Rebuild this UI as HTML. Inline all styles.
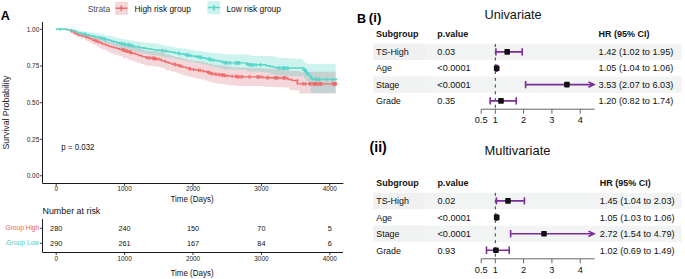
<!DOCTYPE html>
<html><head><meta charset="utf-8">
<style>
html,body{margin:0;padding:0;background:#fff;}
body{width:685px;height:279px;overflow:hidden;}
svg{display:block;font-family:"Liberation Sans",sans-serif;}
</style></head>
<body>
<svg width="685" height="279" viewBox="0 0 685 279">
<rect width="685" height="279" fill="#fff"/>
<text x="0.8" y="20.4" font-size="12.6" fill="#000" font-weight="bold" transform="matrix(1 0 0 1.08 0 -1.632)">A</text>
<text x="87.7" y="11.7" font-size="8.4" fill="#4d4d4d" transform="matrix(1 0 0 1.1 0 -1.170)">Strata</text>
<rect x="115" y="1.8" width="13" height="13" fill="#F4D7DA"/>
<path d="M115.6,8.3H127.4M121.3,5.5V11.0" stroke="#EE6A68" stroke-width="1.5" fill="none"/>
<text x="134.5" y="11.7" font-size="8.4" fill="#111" transform="matrix(1 0 0 1.1 0 -1.170)">High risk group</text>
<rect x="207.3" y="1.2" width="13" height="13" fill="#11C6AE" fill-opacity="0.21"/>
<path d="M207.9,7.6H219.7M213.8,5.0V10.7" stroke="#58D5CB" stroke-width="1.5" fill="none"/>
<text x="226.4" y="11.7" font-size="8.4" fill="#111" transform="matrix(1 0 0 1.1 0 -1.170)">Low risk group</text>
<g><path d="M56.0,29.30H58.3V29.30H62.6V29.30H64.7V29.30H66.7V29.33H69.2V29.49H71.4V31.25H75.0V32.12H76.8V33.07H81.0V33.42H85.1V34.02H86.6V34.63H89.7V35.36H91.5V36.09H93.8V37.02H96.5V38.04H99.4V39.05H102.3V40.27H106.6V41.35H108.9V42.08H110.9V42.57H114.4V43.22H118.8V44.01H123.0V44.86H127.2V45.45H128.9V46.18H133.2V47.27H136.6V48.34H140.8V49.32H143.5V50.02H145.6V50.82H149.5V51.04H153.0V51.26H156.8V51.61H158.9V51.84H160.8V52.87H164.6V54.14H166.2V54.85H170.5V55.59H172.4V56.19H175.7V56.90H178.5V57.51H181.0V58.03H183.0V58.79H186.8V60.00H191.1V60.68H194.7V61.01H198.0V61.34H201.7V61.88H204.8V62.76H208.0V63.81H212.2V64.73H214.5V64.97H216.7V65.26H221.0V65.75H225.4V66.33H228.3V66.78H232.2V67.19H235.9V67.54H240.3V67.70H242.0V67.77H246.2V67.87H249.2V67.94H252.1V68.02H255.6V68.11H259.0V68.17H261.8V68.28H264.2V68.73H268.4V68.70H272.4V68.69H274.2V68.68H276.9V68.66H280.7V68.64H284.8V68.62H289.2V70.81H291.4V70.89H295.6V70.98H299.2V71.80H300.9V71.80H303.0V71.80H305.1V71.80H306.8V71.80H310.4V71.80H312.8V71.80H316.4V71.80H318.1V71.80H322.2V71.80H325.8V71.80H329.7V71.80H333.0V71.80H335.7V71.80V93.40H333.0V93.40H329.7V93.40H325.8V93.40H322.2V93.40H318.1V93.40H316.4V93.40H312.8V93.40H310.4V93.40H306.8V93.40H305.1V93.40H303.0V93.40H300.9V93.40H299.2V90.35H295.6V90.06H291.4V89.82H289.2V87.49H284.8V87.33H280.7V87.17H276.9V87.05H274.2V86.96H272.4V86.85H268.4V86.72H264.2V86.23H261.8V86.08H259.0V86.07H255.6V86.05H252.1V86.04H249.2V86.02H246.2V86.00H242.0V85.99H240.3V85.90H235.9V85.59H232.2V85.17H228.3V84.70H225.4V84.08H221.0V83.43H216.7V83.02H214.5V82.70H212.2V81.66H208.0V80.48H204.8V79.44H201.7V78.73H198.0V78.16H194.7V77.58H191.1V76.62H186.8V75.13H183.0V74.16H181.0V73.48H178.5V72.68H175.7V71.83H172.4V71.13H170.5V70.28H166.2V69.45H164.6V68.07H160.8V66.94H158.9V66.66H156.8V66.25H153.0V65.95H149.5V65.64H145.6V64.73H143.5V63.91H140.8V62.76H136.6V61.51H133.2V60.22H128.9V59.01H127.2V57.89H123.0V56.28H118.8V54.70H114.4V53.35H110.9V52.39H108.9V51.36H106.6V49.84H102.3V48.13H99.4V46.59H96.5V45.06H93.8V43.67H91.5V42.57H89.7V41.26H86.6V40.08H85.1V38.78H81.0V37.20H76.8V34.96H75.0V32.95H71.4V30.36H69.2V29.73H66.7V29.30H64.7V29.30H62.6V29.30H58.3V29.30H56.0V29.30Z" fill="#F4D7DA"/>
<path d="M56.0,29.30H57.9V29.30H60.9V29.30H64.2V29.30H65.8V29.33H67.7V29.48H72.0V29.63H73.7V29.88H75.6V30.30H79.9V30.88H83.3V31.40H85.9V31.89H89.0V32.37H92.4V32.80H94.8V33.12H96.7V33.58H100.5V34.33H104.1V35.14H107.1V35.83H111.0V36.46H114.2V37.46H118.6V38.50H120.7V38.98H123.9V39.49H126.9V39.95H129.4V40.43H132.7V40.88H134.9V41.38H138.8V42.05H142.9V42.48H144.8V42.69H147.7V42.92H150.0V43.10H151.8V43.36H156.0V43.67H158.8V43.88H160.7V44.88H164.2V45.93H166.3V46.29H170.5V46.75H172.7V47.05H174.3V47.34H176.4V47.71H178.9V48.14H181.8V48.70H186.0V49.32H189.6V49.80H192.2V50.11H193.7V50.38H195.7V50.86H200.2V51.41H203.1V51.90H206.6V52.25H208.3V52.43H209.9V52.76H213.9V53.18H217.2V53.51H219.6V53.79H222.1V53.95H223.8V54.09H225.9V54.13H227.4V54.19H231.5V54.26H234.3V54.31H236.2V54.36H239.9V54.42H242.0V54.46H243.7V54.52H247.0V54.74H251.2V55.92H252.8V55.96H256.7V56.00H258.8V56.02H260.5V56.04H262.1V56.07H264.5V56.10H268.2V56.15H271.1V56.19H275.2V57.49H277.4V57.64H279.8V57.80H282.1V58.02H286.5V58.31H290.8V58.49H293.4V58.60H296.2V58.71H298.6V58.84H302.3V60.21H304.0V62.09H305.7V63.21H308.4V64.10H310.6V64.10H314.6V64.10H318.4V64.10H321.5V64.10H325.0V64.10H328.6V64.10H332.4V64.10H335.7V64.10V93.00H332.4V93.00H328.6V93.00H325.0V93.00H321.5V93.00H318.4V93.00H314.6V93.00H310.6V83.60H308.4V80.89H305.7V78.16H304.0V76.37H302.3V76.14H298.6V76.07H296.2V76.01H293.4V75.94H290.8V75.85H286.5V75.68H282.1V75.55H279.8V75.32H277.4V74.84H275.2V74.15H271.1V73.25H268.2V72.39H264.5V71.98H262.1V71.89H260.5V71.83H258.8V71.79H256.7V71.73H252.8V71.67H251.2V71.61H247.0V69.85H243.7V69.65H242.0V69.63H239.9V69.60H236.2V69.57H234.3V69.54H231.5V69.50H227.4V69.47H225.9V69.40H223.8V68.69H222.1V67.91H219.6V67.45H217.2V66.91H213.9V66.21H209.9V65.47H208.3V65.05H206.6V64.36H203.1V63.57H200.2V62.92H195.7V62.37H193.7V62.07H192.2V61.71H189.6V61.14H186.0V60.42H181.8V59.69H178.9V59.14H176.4V58.66H174.3V58.31H172.7V58.01H170.5V57.51H166.3V57.01H164.2V56.57H160.7V56.15H158.8V55.78H156.0V55.21H151.8V54.67H150.0V54.30H147.7V53.80H144.8V53.33H142.9V52.74H138.8V51.94H134.9V51.12H132.7V50.37H129.4V49.61H126.9V49.01H123.9V48.34H120.7V47.73H118.6V46.72H114.2V45.47H111.0V44.20H107.1V42.99H104.1V41.88H100.5V40.65H96.7V39.72H94.8V39.04H92.4V38.02H89.0V36.88H85.9V36.00H83.3V35.06H79.9V33.81H75.6V31.54H73.7V30.80H72.0V29.95H67.7V29.51H65.8V29.28H64.2V29.28H60.9V29.29H57.9V29.30H56.0V29.30Z" fill="#11C6AE" fill-opacity="0.21"/>
<path d="M56.0,29.30H58.2H60.0H61.4H64.5H66.9V29.69H70.9V31.89H74.5V33.72H78.0V34.96H79.4V35.42H82.1V36.10H85.0V36.77H86.4V37.46H88.9V38.35H91.0V39.13H92.8V40.25H96.3V41.47H98.7V42.26H100.1V43.02H102.4V44.19H106.1V45.35H108.4V46.14H110.2V46.64H111.5V47.17H114.2V47.91H117.2V48.62H119.6V49.49H123.2V50.42H125.8V51.32H129.3V52.30H132.1V53.22H134.9V54.06H137.3V54.69H138.8V55.46H141.9V56.58H145.6V57.70H148.8V58.02H151.2V58.22H152.6V58.38H154.3V58.65H157.1V59.11H160.1V59.46H161.4V60.79H165.2V62.25H168.4V63.14H171.6V64.11H175.6V65.04H178.6V65.78H181.1V66.38H183.0V67.11H186.1V68.16H189.2V69.19H193.1V69.70H196.9V70.12H199.5V70.52H203.1V71.47H207.0V72.40H209.3V73.19H212.2V74.02H215.1V74.31H217.6V74.58H220.2V74.81H222.0V75.08H223.7V75.37H225.8V75.74H228.6V76.07H231.7V76.37H235.2V76.61H237.2V76.72H239.8V76.81H242.3H244.0H247.9H250.0H253.2H256.3H259.7H263.2V77.55H267.1V77.74H269.2H272.2H274.3H276.3H279.8V77.96H283.1V78.02H286.3H287.9V79.46H291.8V80.42H294.7V80.52H297.2V83.80H301.0H302.5H304.5H306.1H308.3H311.7H313.3H316.6H319.5H321.6H325.2H326.5H328.4H331.0H333.3H335.6H337.3" stroke="#EE6A68" stroke-width="1.35" fill="none"/>
<path d="M95.1,38.7v3.6M95.9,39.0v3.6M97.8,39.8v3.6M121.6,47.8v3.6M123.2,48.2v3.6M123.4,48.3v3.6M124.6,48.6v3.6M123.5,48.3v3.6M124.5,48.6v3.6M125.8,49.0v3.6M126.9,49.3v3.6M127.4,49.5v3.6M128.9,49.9v3.6M130.0,50.3v3.6M131.4,50.7v3.6M130.1,50.3v3.6M131.2,50.7v3.6M147.2,55.9v3.6M148.7,56.1v3.6M150.0,56.2v3.6M152.8,56.5v3.6M154.1,56.7v3.6M155.1,56.8v3.6M156.5,57.0v3.6M153.1,56.5v3.6M154.3,56.7v3.6M155.2,56.8v3.6M158.9,57.4v3.6M173.8,62.3v3.6M175.2,62.7v3.6M175.5,62.8v3.6M177.9,63.5v3.6M180.0,64.0v3.6M181.2,64.4v3.6M188.8,66.7v3.6M190.1,67.2v3.6M190.7,67.3v3.6M193.5,67.7v3.6M198.7,68.4v3.6M200.3,68.6v3.6M207.8,70.5v3.6M208.6,70.7v3.6M210.6,71.3v3.6M212.1,71.8v3.6M209.5,71.0v3.6M212.1,71.8v3.6M215.3,72.4v3.6M216.2,72.5v3.6M218.1,72.7v3.6M219.7,72.9v3.6M221.3,73.0v3.6M222.2,73.2v3.6M223.9,73.4v3.6M226.0,73.8v3.6M222.6,73.2v3.6M224.1,73.5v3.6M224.4,73.5v3.6M232.3,74.5v3.6M235.4,74.7v3.6M236.7,74.8v3.6M238.4,74.9v3.6M237.0,74.8v3.6M238.0,74.9v3.6M240.0,75.0v3.6M241.6,75.0v3.6M242.9,75.0v3.6M249.0,75.1v3.6M250.0,75.1v3.6M257.2,75.2v3.6M258.1,75.2v3.6M259.8,75.2v3.6M261.9,75.2v3.6M257.4,75.2v3.6M257.5,75.2v3.6M259.0,75.2v3.6M266.7,75.9v3.6M267.8,75.9v3.6M268.8,75.9v3.6M274.3,76.0v3.6M275.8,76.1v3.6M277.4,76.1v3.6M278.0,76.1v3.6M275.3,76.1v3.6M276.7,76.1v3.6M282.9,76.2v3.6M284.3,76.2v3.6M284.5,76.2v3.6M286.2,76.2v3.6M283.9,76.2v3.6M284.9,76.2v3.6M297.9,78.8v3.6M302.3,82.0v3.6M303.6,82.0v3.6M305.1,82.0v3.6M305.5,82.0v3.6M309.3,82.0v3.6M310.7,82.0v3.6M309.4,82.0v3.6M310.9,82.0v3.6M313.1,82.0v3.6M314.1,82.0v3.6M315.5,82.0v3.6M313.2,82.0v3.6M314.7,82.0v3.6M314.9,82.0v3.6M316.8,82.0v3.6M315.8,82.0v3.6M316.9,82.0v3.6M318.6,82.1v3.6M315.9,82.0v3.6M318.2,82.1v3.6M319.2,82.1v3.6M320.4,82.1v3.6M321.7,82.1v3.6M320.4,82.1v3.6M321.4,82.1v3.6M332.4,82.1v3.6M333.5,82.1v3.6M335.0,82.1v3.6M335.1,82.1v3.6M333.7,82.1v3.6M334.6,82.1v3.6M336.0,82.1v3.6M335.1,82.1v3.6M336.1,82.1v3.6" stroke="#EE6A68" stroke-width="0.9" fill="none"/>
<path d="M56.0,29.30H59.4H62.3H65.5H66.9V29.69H69.9V30.24H73.8V31.01H76.2V32.29H77.7V32.99H81.6V33.72H84.7V34.24H86.5V34.76H89.5V35.69H93.5V36.42H95.3V37.06H98.9V37.88H102.1V38.50H103.9V38.95H105.6V39.68H109.5V40.50H111.6V41.26H114.1V42.08H117.1V42.83H119.5V43.32H120.7V43.61H122.7V44.03H125.2V44.57H128.5V45.22H131.4V45.85H133.8V46.35H135.5V46.94H138.9V47.36H140.7V47.77H143.9V48.24H146.5V48.67H149.2V49.05H151.5V49.35H153.3V49.61H155.0V49.92H157.9V50.22H159.9V50.42H161.2V50.60H162.9V50.94H166.7V51.48H169.9V51.94H172.7V52.34H175.0V52.92H178.5V53.47H180.4V53.96H183.4V54.38H184.7V54.77H187.7V55.40H191.6V56.04H194.8V56.42H196.2V56.77H199.0V57.18H201.1V57.72H204.9V58.33H206.2V58.62H207.4V58.95H208.9V59.38H211.0V60.02H214.7V60.57H217.5V61.06H220.5V61.46H221.8V62.01H223.5V62.72H225.8V62.85H228.7H232.1H234.9H236.8H238.5H240.9H242.8H246.2V64.34H249.9V64.83H253.3H254.9H258.3H259.5H261.1H264.3V65.07H266.4V65.71H269.9V66.46H273.0V67.13H276.0V67.66H278.9V68.02H282.6H286.2H287.4H291.4H293.8H295.8H299.5H303.2V70.28H306.6V74.31H309.8V76.57H311.0V78.42H313.0V79.33H316.5V79.39H320.5H322.5H325.8H327.3H330.6H332.8H334.2H335.9H337.3" stroke="#58D5CB" stroke-width="1.45" fill="none"/>
<path d="M84.5,32.2v3.6M85.6,32.5v3.6M100.2,36.0v3.6M101.5,36.3v3.6M103.4,36.8v3.6M104.7,37.1v3.6M106.1,37.5v3.6M120.0,41.5v3.6M121.8,41.8v3.6M122.7,42.0v3.6M124.5,42.3v3.6M125.7,42.6v3.6M124.4,42.3v3.6M127.7,42.9v3.6M128.8,43.2v3.6M129.3,43.3v3.6M130.4,43.5v3.6M132.0,43.9v3.6M133.2,44.2v3.6M138.7,45.4v3.6M161.7,48.8v3.6M163.1,48.9v3.6M163.5,49.0v3.6M165.8,49.3v3.6M178.4,51.5v3.6M179.7,51.7v3.6M185.2,52.8v3.6M186.8,53.1v3.6M187.4,53.2v3.6M188.6,53.4v3.6M187.2,53.2v3.6M187.5,53.2v3.6M187.7,53.3v3.6M188.8,53.4v3.6M190.9,53.8v3.6M197.1,54.9v3.6M198.5,55.1v3.6M198.9,55.2v3.6M200.4,55.4v3.6M200.7,55.5v3.6M202.2,55.7v3.6M208.4,57.2v3.6M209.2,57.4v3.6M210.4,57.7v3.6M210.4,57.7v3.6M211.3,57.9v3.6M213.4,58.3v3.6M224.0,60.7v3.6M224.9,61.0v3.6M225.6,61.0v3.6M226.9,61.1v3.6M226.0,61.0v3.6M227.6,61.1v3.6M229.6,61.1v3.6M230.8,61.1v3.6M235.3,61.1v3.6M236.8,61.1v3.6M237.5,61.1v3.6M239.7,61.1v3.6M235.7,61.1v3.6M237.1,61.1v3.6M238.1,61.1v3.6M238.2,61.1v3.6M239.6,61.1v3.6M247.5,62.3v3.6M248.4,62.7v3.6M249.6,63.0v3.6M250.2,63.0v3.6M251.2,63.0v3.6M252.7,63.0v3.6M250.3,63.0v3.6M252.0,63.0v3.6M253.1,63.1v3.6M254.7,63.1v3.6M256.3,63.1v3.6M259.9,63.1v3.6M261.0,63.2v3.6M278.1,66.0v3.6M279.6,66.2v3.6M280.1,66.2v3.6M282.6,66.2v3.6M282.5,66.2v3.6M283.9,66.2v3.6M285.0,66.3v3.6M283.0,66.2v3.6M283.8,66.2v3.6M284.6,66.3v3.6M286.4,66.3v3.6M287.6,66.3v3.6M288.0,66.3v3.6M303.7,67.2v3.6M304.9,68.5v3.6M306.3,70.1v3.6M307.9,72.2v3.6M303.9,67.4v3.6M305.1,68.7v3.6M306.5,70.4v3.6M304.8,68.3v3.6M306.0,69.8v3.6M307.4,71.6v3.6M305.0,68.5v3.6M306.4,70.2v3.6M308.1,72.4v3.6M308.1,72.4v3.6M305.3,68.8v3.6M311.3,75.7v3.6M312.1,76.7v3.6M311.4,75.9v3.6M312.9,77.5v3.6M315.5,77.5v3.6M316.5,77.6v3.6M315.8,77.5v3.6M317.0,77.6v3.6M318.2,77.6v3.6M319.6,77.6v3.6M319.9,77.6v3.6M325.6,77.7v3.6M327.1,77.7v3.6M332.0,77.8v3.6M333.0,77.8v3.6M335.9,77.9v3.6" stroke="#58D5CB" stroke-width="0.9" fill="none"/>
<path d="M60.3,27.6v3.4" stroke="#58D5CB" stroke-width="1"/></g>
<path d="M42.5,22V183.5H343.3" stroke="#1a1a1a" stroke-width="1" fill="none"/>
<path d="M40,29.3H42.5M40,66.0H42.5M40,102.7H42.5M40,139.3H42.5M40,175.8H42.5M56.2,183.5V186M124.6,183.5V186M193,183.5V186M261.4,183.5V186M329.8,183.5V186" stroke="#222" stroke-width="0.9"/>
<text x="39.2" y="31.6" font-size="6.4" fill="#222" text-anchor="end" transform="matrix(1 0 0 1.1 0 -3.160)">1.00</text>
<text x="39.2" y="68.3" font-size="6.4" fill="#222" text-anchor="end" transform="matrix(1 0 0 1.1 0 -6.830)">0.75</text>
<text x="39.2" y="105.0" font-size="6.4" fill="#222" text-anchor="end" transform="matrix(1 0 0 1.1 0 -10.500)">0.50</text>
<text x="39.2" y="141.60000000000002" font-size="6.4" fill="#222" text-anchor="end" transform="matrix(1 0 0 1.1 0 -14.160)">0.25</text>
<text x="39.2" y="178.10000000000002" font-size="6.4" fill="#222" text-anchor="end" transform="matrix(1 0 0 1.1 0 -17.810)">0.00</text>
<text x="56.2" y="191.1" font-size="6.4" fill="#222" text-anchor="middle" transform="matrix(1 0 0 1.1 0 -19.110)">0</text>
<text x="124.6" y="191.1" font-size="6.4" fill="#222" text-anchor="middle" transform="matrix(1 0 0 1.1 0 -19.110)">1000</text>
<text x="193" y="191.1" font-size="6.4" fill="#222" text-anchor="middle" transform="matrix(1 0 0 1.1 0 -19.110)">2000</text>
<text x="261.4" y="191.1" font-size="6.4" fill="#222" text-anchor="middle" transform="matrix(1 0 0 1.1 0 -19.110)">3000</text>
<text x="329.8" y="191.1" font-size="6.4" fill="#222" text-anchor="middle" transform="matrix(1 0 0 1.1 0 -19.110)">4000</text>
<text x="192" y="201.9" font-size="8.0" fill="#111" text-anchor="middle" transform="matrix(1 0 0 1.15 0 -30.285)">Time (Days)</text>
<text transform="translate(9.3,112.5) rotate(-90) scale(1,1.08)" font-size="8.7" text-anchor="middle" fill="#111">Survival Probability</text>
<text x="61.3" y="149.6" font-size="7.9" fill="#111" transform="matrix(1 0 0 1.1 0 -14.960)">p = 0.032</text>
<text x="42.5" y="214.2" font-size="8.9" fill="#111" transform="matrix(1 0 0 1.1 0 -21.420)">Number at risk</text>
<path d="M42.5,219.2V252.5H343" stroke="#1a1a1a" stroke-width="1" fill="none"/>
<path d="M40,228.3H42.5M40,243.3H42.5M56.2,252.5V255M124.6,252.5V255M193,252.5V255M261.4,252.5V255M329.8,252.5V255" stroke="#222" stroke-width="0.9"/>
<text x="39.2" y="230.5" font-size="6.6" fill="#E8625F" text-anchor="end" transform="matrix(1 0 0 1.1 0 -23.050)">Group High</text>
<text x="39.2" y="245.4" font-size="6.7" fill="#45CDC1" text-anchor="end" transform="matrix(1 0 0 1.1 0 -24.540)">Group Low</text>
<rect x="5.1" y="243.3" width="1.5" height="1.1" fill="#45CDC1" fill-opacity="0.6"/>
<text x="56.2" y="230.9" font-size="7.3" fill="#111" text-anchor="middle" transform="matrix(1 0 0 1.1 0 -23.090)">280</text>
<text x="56.2" y="245.9" font-size="7.3" fill="#111" text-anchor="middle" transform="matrix(1 0 0 1.1 0 -24.590)">290</text>
<text x="124.6" y="230.9" font-size="7.3" fill="#111" text-anchor="middle" transform="matrix(1 0 0 1.1 0 -23.090)">240</text>
<text x="124.6" y="245.9" font-size="7.3" fill="#111" text-anchor="middle" transform="matrix(1 0 0 1.1 0 -24.590)">261</text>
<text x="193" y="230.9" font-size="7.3" fill="#111" text-anchor="middle" transform="matrix(1 0 0 1.1 0 -23.090)">150</text>
<text x="193" y="245.9" font-size="7.3" fill="#111" text-anchor="middle" transform="matrix(1 0 0 1.1 0 -24.590)">167</text>
<text x="261.4" y="230.9" font-size="7.3" fill="#111" text-anchor="middle" transform="matrix(1 0 0 1.1 0 -23.090)">70</text>
<text x="261.4" y="245.9" font-size="7.3" fill="#111" text-anchor="middle" transform="matrix(1 0 0 1.1 0 -24.590)">84</text>
<text x="329.8" y="230.9" font-size="7.3" fill="#111" text-anchor="middle" transform="matrix(1 0 0 1.1 0 -23.090)">5</text>
<text x="329.8" y="245.9" font-size="7.3" fill="#111" text-anchor="middle" transform="matrix(1 0 0 1.1 0 -24.590)">6</text>
<text x="56.2" y="261.0" font-size="6.4" fill="#222" text-anchor="middle" transform="matrix(1 0 0 1.1 0 -26.100)">0</text>
<text x="124.6" y="261.0" font-size="6.4" fill="#222" text-anchor="middle" transform="matrix(1 0 0 1.1 0 -26.100)">1000</text>
<text x="193" y="261.0" font-size="6.4" fill="#222" text-anchor="middle" transform="matrix(1 0 0 1.1 0 -26.100)">2000</text>
<text x="261.4" y="261.0" font-size="6.4" fill="#222" text-anchor="middle" transform="matrix(1 0 0 1.1 0 -26.100)">3000</text>
<text x="329.8" y="261.0" font-size="6.4" fill="#222" text-anchor="middle" transform="matrix(1 0 0 1.1 0 -26.100)">4000</text>
<text x="192" y="275.6" font-size="8.0" fill="#111" text-anchor="middle" transform="matrix(1 0 0 1.15 0 -41.340)">Time (Days)</text>
<text x="357.0" y="22.8" font-size="12.5" fill="#000" font-weight="bold" transform="matrix(1 0 0 1.05 0 -1.140)">B</text>
<text x="368.8" y="22.1" font-size="13.3" fill="#000" font-weight="bold">(i)</text>
<text x="484.5" y="18.9" font-size="12.7" fill="#111" transform="matrix(1 0 0 1.02 0 -0.378)">Univariate</text>
<text x="369.6" y="151.5" font-size="14.1" fill="#000" font-weight="bold">(ii)</text>
<text x="484.5" y="154.9" font-size="12.9" fill="#111" transform="matrix(1 0 0 1.02 0 -3.098)">Multivariate</text>
<text x="376" y="36.8" font-size="9" fill="#111" font-weight="bold" transform="matrix(1 0 0 1.05 0 -1.840)">Subgroup</text>
<text x="437.3" y="36.8" font-size="9" fill="#111" font-weight="bold" transform="matrix(1 0 0 1.05 0 -1.840)">p.value</text>
<text x="598.6" y="36.8" font-size="9" fill="#111" font-weight="bold" transform="matrix(1 0 0 1.05 0 -1.840)">HR (95% CI)</text>
<rect x="373.3" y="43.7" width="308.2" height="16.35" fill="#f1f4f3"/>
<rect x="373.3" y="43.7" width="52.2" height="16.4" fill="#f0f0f0"/>
<rect x="373.3" y="76.4" width="308.2" height="16.35" fill="#f1f4f3"/>
<rect x="373.3" y="76.4" width="52.2" height="16.4" fill="#f1f3f2"/>
<path d="M495.3,44V109.2" stroke="#222" stroke-width="0.9" stroke-dasharray="3,3.75"/>
<text x="376" y="54.975" font-size="8.95" fill="#111" transform="matrix(1 0 0 1.07 0 -3.848)">TS-High</text>
<text x="437.3" y="54.975" font-size="9.15" fill="#111" transform="matrix(1 0 0 1.05 0 -2.749)">0.03</text>
<text x="598.6" y="54.975" font-size="9.15" fill="#111" transform="matrix(1 0 0 1.05 0 -2.749)">1.42 (1.02 to 1.95)</text>
<path d="M495.9,51.9H522.2M495.9,48.2V55.6M522.2,48.2V55.6" stroke="#7B2D9B" stroke-width="1.6" fill="none"/>
<rect x="504.4" y="49.1" width="5.6" height="5.6" rx="0.8" fill="#111"/>
<text x="376" y="71.325" font-size="8.95" fill="#111" transform="matrix(1 0 0 1.07 0 -4.993)">Age</text>
<text x="437.3" y="71.325" font-size="9.15" fill="#111" transform="matrix(1 0 0 1.05 0 -3.566)">&lt;0.0001</text>
<text x="598.6" y="71.325" font-size="9.15" fill="#111" transform="matrix(1 0 0 1.05 0 -3.566)">1.05 (1.04 to 1.06)</text>
<path d="M496.4,68.2H497.0M496.4,64.5V71.9M497.0,64.5V71.9" stroke="#7B2D9B" stroke-width="1.6" fill="none"/>
<rect x="493.9" y="65.4" width="5.6" height="5.6" rx="0.8" fill="#111"/>
<text x="376" y="87.675" font-size="8.95" fill="#111" transform="matrix(1 0 0 1.07 0 -6.137)">Stage</text>
<text x="437.3" y="87.675" font-size="9.15" fill="#111" transform="matrix(1 0 0 1.05 0 -4.384)">&lt;0.0001</text>
<text x="598.6" y="87.675" font-size="9.15" fill="#111" transform="matrix(1 0 0 1.05 0 -4.384)">3.53 (2.07 to 6.03)</text>
<path d="M525.6,84.6H592.2M525.6,80.9V88.3M588.4,81.9L594.1,84.6L588.4,87.3" stroke="#7B2D9B" stroke-width="1.6" fill="none"/>
<rect x="564.1" y="81.8" width="5.6" height="5.6" rx="0.8" fill="#111"/>
<text x="376" y="104.02499999999999" font-size="8.95" fill="#111" transform="matrix(1 0 0 1.07 0 -7.282)">Grade</text>
<text x="437.3" y="104.02499999999999" font-size="9.15" fill="#111" transform="matrix(1 0 0 1.05 0 -5.201)">0.35</text>
<text x="598.6" y="104.02499999999999" font-size="9.15" fill="#111" transform="matrix(1 0 0 1.05 0 -5.201)">1.20 (0.82 to 1.74)</text>
<path d="M490.2,100.9H516.2M490.2,97.2V104.6M516.2,97.2V104.6" stroke="#7B2D9B" stroke-width="1.6" fill="none"/>
<rect x="498.2" y="98.1" width="5.6" height="5.6" rx="0.8" fill="#111"/>
<path d="M481.2,109.2H594.8M481.2,109.2V113.7M495.3,109.2V113.7M523.6,109.2V113.7M551.9,109.2V113.7M580.2,109.2V113.7" stroke="#555" stroke-width="0.9" fill="none"/>
<text x="481.2" y="123.5" font-size="9.2" fill="#111" text-anchor="middle" transform="matrix(1 0 0 1.05 0 -6.175)">0.5</text>
<text x="495.3" y="123.5" font-size="9.2" fill="#111" text-anchor="middle" transform="matrix(1 0 0 1.05 0 -6.175)">1</text>
<text x="523.6" y="123.5" font-size="9.2" fill="#111" text-anchor="middle" transform="matrix(1 0 0 1.05 0 -6.175)">2</text>
<text x="551.9" y="123.5" font-size="9.2" fill="#111" text-anchor="middle" transform="matrix(1 0 0 1.05 0 -6.175)">3</text>
<text x="580.2" y="123.5" font-size="9.2" fill="#111" text-anchor="middle" transform="matrix(1 0 0 1.05 0 -6.175)">4</text>
<text x="376.2" y="185.8" font-size="9" fill="#111" font-weight="bold" transform="matrix(1 0 0 1.05 0 -9.290)">Subgroup</text>
<text x="437.5" y="185.8" font-size="9" fill="#111" font-weight="bold" transform="matrix(1 0 0 1.05 0 -9.290)">p.value</text>
<text x="599.8" y="185.8" font-size="9" fill="#111" font-weight="bold" transform="matrix(1 0 0 1.05 0 -9.290)">HR (95% CI)</text>
<rect x="373.3" y="192.7" width="308.2" height="16.45" fill="#f1f4f3"/>
<rect x="373.3" y="192.7" width="50.5" height="16.4" fill="#f0f0f0"/>
<rect x="373.3" y="225.6" width="308.2" height="16.45" fill="#f1f4f3"/>
<rect x="373.3" y="225.6" width="50.5" height="16.4" fill="#f1f3f2"/>
<path d="M495.3,192.9V258.8" stroke="#222" stroke-width="0.9" stroke-dasharray="3,3.75"/>
<text x="376.2" y="204.42499999999998" font-size="8.95" fill="#111" transform="matrix(1 0 0 1.07 0 -14.310)">TS-High</text>
<text x="437.5" y="204.42499999999998" font-size="9.15" fill="#111" transform="matrix(1 0 0 1.05 0 -10.221)">0.02</text>
<text x="599.8" y="204.42499999999998" font-size="9.15" fill="#111" transform="matrix(1 0 0 1.05 0 -10.221)">1.45 (1.04 to 2.03)</text>
<path d="M496.4,200.9H524.4M496.4,197.2V204.6M524.4,197.2V204.6" stroke="#7B2D9B" stroke-width="1.6" fill="none"/>
<rect x="505.2" y="198.1" width="5.6" height="5.6" rx="0.8" fill="#111"/>
<text x="376.2" y="220.87499999999997" font-size="8.95" fill="#111" transform="matrix(1 0 0 1.07 0 -15.461)">Age</text>
<text x="437.5" y="220.87499999999997" font-size="9.15" fill="#111" transform="matrix(1 0 0 1.05 0 -11.044)">&lt;0.0001</text>
<text x="599.8" y="220.87499999999997" font-size="9.15" fill="#111" transform="matrix(1 0 0 1.05 0 -11.044)">1.05 (1.03 to 1.06)</text>
<path d="M496.1,217.4H497.0M496.1,213.7V221.1M497.0,213.7V221.1" stroke="#7B2D9B" stroke-width="1.6" fill="none"/>
<rect x="493.9" y="214.6" width="5.6" height="5.6" rx="0.8" fill="#111"/>
<text x="376.2" y="237.325" font-size="8.95" fill="#111" transform="matrix(1 0 0 1.07 0 -16.613)">Stage</text>
<text x="437.5" y="237.325" font-size="9.15" fill="#111" transform="matrix(1 0 0 1.05 0 -11.866)">&lt;0.0001</text>
<text x="599.8" y="237.325" font-size="9.15" fill="#111" transform="matrix(1 0 0 1.05 0 -11.866)">2.72 (1.54 to 4.79)</text>
<path d="M510.6,233.8H592.2M510.6,230.1V237.5M588.4,231.1L594.1,233.8L588.4,236.5" stroke="#7B2D9B" stroke-width="1.6" fill="none"/>
<rect x="541.2" y="231.0" width="5.6" height="5.6" rx="0.8" fill="#111"/>
<text x="376.2" y="253.77499999999998" font-size="8.95" fill="#111" transform="matrix(1 0 0 1.07 0 -17.764)">Grade</text>
<text x="437.5" y="253.77499999999998" font-size="9.15" fill="#111" transform="matrix(1 0 0 1.05 0 -12.689)">0.93</text>
<text x="599.8" y="253.77499999999998" font-size="9.15" fill="#111" transform="matrix(1 0 0 1.05 0 -12.689)">1.02 (0.69 to 1.49)</text>
<path d="M486.5,250.3H509.2M486.5,246.6V254.0M509.2,246.6V254.0" stroke="#7B2D9B" stroke-width="1.6" fill="none"/>
<rect x="493.1" y="247.5" width="5.6" height="5.6" rx="0.8" fill="#111"/>
<path d="M481.2,258.8H594.8M481.2,258.8V263.3M495.3,258.8V263.3M523.6,258.8V263.3M551.9,258.8V263.3M580.2,258.8V263.3" stroke="#555" stroke-width="0.9" fill="none"/>
<text x="481.2" y="273.1" font-size="9.2" fill="#111" text-anchor="middle" transform="matrix(1 0 0 1.05 0 -13.655)">0.5</text>
<text x="495.3" y="273.1" font-size="9.2" fill="#111" text-anchor="middle" transform="matrix(1 0 0 1.05 0 -13.655)">1</text>
<text x="523.6" y="273.1" font-size="9.2" fill="#111" text-anchor="middle" transform="matrix(1 0 0 1.05 0 -13.655)">2</text>
<text x="551.9" y="273.1" font-size="9.2" fill="#111" text-anchor="middle" transform="matrix(1 0 0 1.05 0 -13.655)">3</text>
<text x="580.2" y="273.1" font-size="9.2" fill="#111" text-anchor="middle" transform="matrix(1 0 0 1.05 0 -13.655)">4</text>
</svg>
</body></html>
